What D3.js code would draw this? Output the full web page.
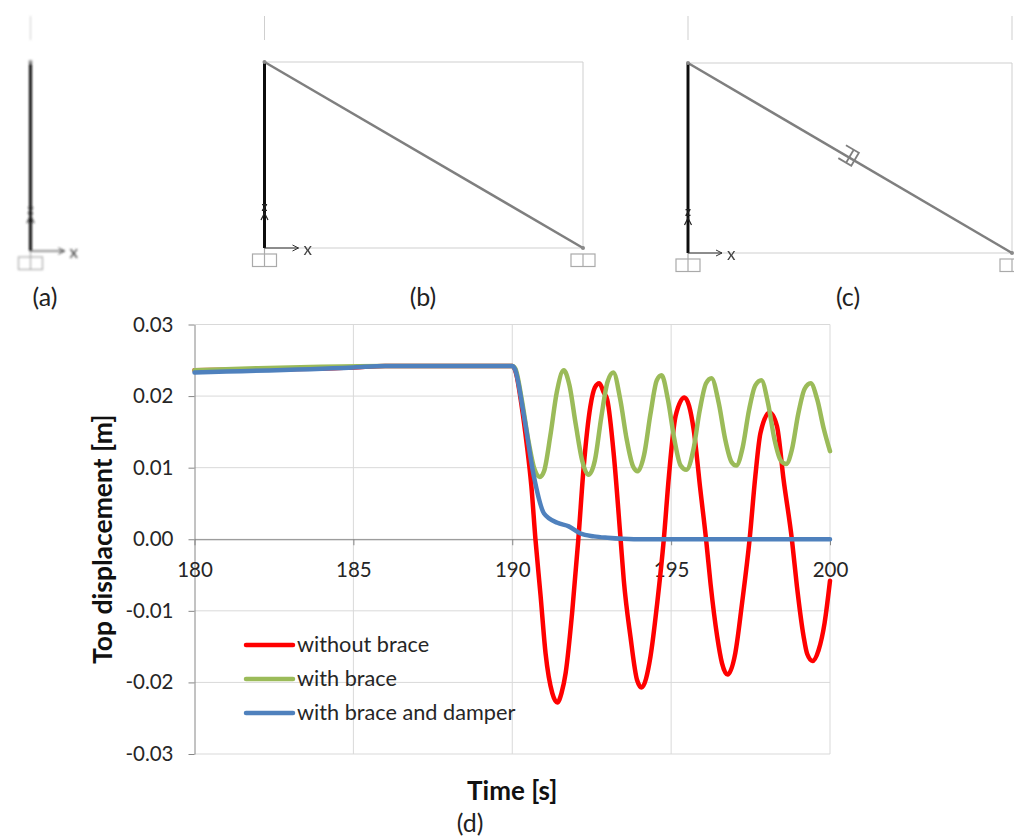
<!DOCTYPE html>
<html>
<head>
<meta charset="utf-8">
<script src="https://cdn.jsdelivr.net/npm/d3@7"></script>
<style>
  body { margin: 0; background: #fff; }
  svg { display: block; font-family: Lato, sans-serif; }
</style>
</head>
<body>
<script>
const seriesNames = ['without brace', 'with brace', 'with brace and damper'];
const seriesColors = ['#ff0000', '#9bbb59', '#4f81bd'];
const xTicks = [180, 185, 190, 195, 200];
const yTicks = [-0.03, -0.02, -0.01, 0, 0.01, 0.02, 0.03];

const redTimes = [180, 185, 186, 190, 190.1, 190.3, 190.45, 190.6, 190.73, 190.89, 191.05, 191.26, 191.42, 191.55, 191.68, 191.89, 192.08, 192.25, 192.46, 192.6, 192.74, 192.88, 192.99, 193.2, 193.41, 193.51, 193.72, 193.93, 194.07, 194.35, 194.56, 194.77, 194.93, 195.14, 195.42, 195.71, 195.92, 196.1, 196.24, 196.45, 196.6, 196.78, 197.02, 197.23, 197.47, 197.65, 197.81, 198.1, 198.33, 198.54, 198.8, 198.96, 199.17, 199.28, 199.45, 199.64, 199.83, 200];
const redValues = [0.0236, 0.024, 0.0242, 0.0242, 0.0235, 0.0185, 0.0135, 0.0075, 0, -0.0078, -0.016, -0.0215, -0.0228, -0.0215, -0.0187, -0.01, 0, 0.0102, 0.0186, 0.0212, 0.0218, 0.0205, 0.0195, 0.0116, 0, -0.0057, -0.0136, -0.0197, -0.0207, -0.0164, -0.009, 0, 0.0088, 0.0172, 0.0198, 0.0153, 0.0069, 0, -0.0062, -0.0136, -0.0173, -0.0189, -0.0159, -0.009, 0, 0.0088, 0.0148, 0.0177, 0.0158, 0.0083, 0, -0.0066, -0.0136, -0.016, -0.017, -0.0155, -0.0117, -0.0058];

const greenTimes = [180, 182, 184, 186, 190, 190.1, 190.3, 190.5, 190.7, 190.87, 191, 191.2, 191.4, 191.62, 191.8, 192, 192.2, 192.4, 192.6, 192.8, 193, 193.18, 193.4, 193.6, 193.8, 193.95, 194.15, 194.35, 194.55, 194.7, 194.9, 195.1, 195.3, 195.48, 195.7, 195.9, 196.1, 196.27, 196.5, 196.7, 196.9, 197.05, 197.25, 197.45, 197.65, 197.84, 198.05, 198.25, 198.45, 198.62, 198.8, 199, 199.2, 199.39, 199.6, 199.8, 200];
const greenValues = [0.0236, 0.0239, 0.0241, 0.0242, 0.0242, 0.0238, 0.0195, 0.014, 0.0098, 0.0087, 0.0095, 0.0145, 0.0205, 0.0236, 0.0215, 0.016, 0.011, 0.009, 0.011, 0.017, 0.022, 0.0233, 0.0195, 0.014, 0.0102, 0.0095, 0.0118, 0.0175, 0.0222, 0.0229, 0.0195, 0.014, 0.0103, 0.0097, 0.0125, 0.018, 0.0218, 0.0225, 0.019, 0.014, 0.0108, 0.0103, 0.0128, 0.018, 0.0215, 0.0222, 0.019, 0.014, 0.011, 0.0105, 0.0125, 0.0175, 0.021, 0.0218, 0.0195, 0.0155, 0.0123];

const blueTimes = [180, 185, 186, 190, 190.08, 190.37, 190.68, 191, 191.42, 191.78, 192.15, 192.57, 193, 193.83, 200];
const blueValues = [0.0233, 0.024, 0.0242, 0.0242, 0.0238, 0.0172, 0.0088, 0.0036, 0.0023, 0.0018, 0.0008, 0.0004, 0.0002, 0, 0];

const allTimes = [redTimes, greenTimes, blueTimes];
const allValues = [redValues, greenValues, blueValues];

const svg = d3.select('body').append('svg')
  .attr('width', 1014)
  .attr('height', 839);

const x = d3.scaleLinear().domain([180, 200]).range([194.5, 830]);
const y = d3.scaleLinear().domain([-0.03, 0.03]).range([754, 324.5]);

// gridlines
const grid = svg.append('g').attr('stroke', '#d9d9d9').attr('stroke-width', 1);
grid.selectAll('.h').data(yTicks).join('line')
  .attr('x1', x(180)).attr('x2', x(200))
  .attr('y1', d => y(d)).attr('y2', d => y(d));
grid.selectAll('.v').data(xTicks.slice(1)).join('line')
  .attr('x1', d => x(d)).attr('x2', d => x(d))
  .attr('y1', y(0.03)).attr('y2', y(-0.03));

const yAxis = svg.append('g')
  .attr('transform', `translate(${x(180)},0)`)
  .call(d3.axisLeft(y).tickValues(yTicks).tickFormat(d3.format('.2f')).tickSize(6).tickSizeOuter(0));

const xAxis = svg.append('g')
  .attr('transform', `translate(0,${y(0)})`)
  .call(d3.axisBottom(x).tickValues(xTicks).tickFormat(d3.format('d')).tickSize(6).tickSizeOuter(0).tickPadding(17));

[yAxis, xAxis].forEach(a => {
  a.selectAll('path, line').attr('stroke', '#868686');
  a.selectAll('text').attr('font-size', 20.5).attr('font-family', 'Lato, sans-serif').attr('fill', '#262626');
});
yAxis.selectAll('text').attr('x', -21).text(d => d3.format('.2f')(d).replace('−', '-'));

const line = d3.line().x(d => x(d[0])).y(d => y(d[1])).curve(d3.curveMonotoneX);

svg.append('g').selectAll('path')
  .data(seriesNames)
  .join('path')
  .attr('fill', 'none')
  .attr('stroke', (d, i) => seriesColors[i])
  .attr('stroke-width', 4.5)
  .attr('stroke-linecap', 'round')
  .attr('stroke-linejoin', 'round')
  .attr('d', (d, i) => line(allTimes[i].map((t, j) => [t, allValues[i][j]])));

// legend
const legend = svg.append('g').selectAll('g')
  .data(seriesNames)
  .join('g')
  .attr('transform', (d, i) => `translate(246,${645 + i * 34})`);
legend.append('line')
  .attr('x2', 47)
  .attr('stroke', (d, i) => seriesColors[i])
  .attr('stroke-width', 4.5)
  .attr('stroke-linecap', 'round');
legend.append('text')
  .attr('x', 51)
  .attr('y', 7)
  .attr('font-size', 21.7)
  .attr('fill', '#262626')
  .text(d => d);

svg.append('text')
  .attr('x', x(190)).attr('y', 800)
  .attr('text-anchor', 'middle')
  .attr('font-size', 26)
  .attr('font-weight', 700)
  .attr('fill', '#111')
  .text('Time [s]');

svg.append('text')
  .attr('transform', `translate(112,${y(0)}) rotate(-90)`)
  .attr('text-anchor', 'middle')
  .attr('font-size', 26.5)
  .attr('font-weight', 700)
  .attr('fill', '#111')
  .text('Top displacement [m]');

// panel captions
const captionNames = ['(a)', '(b)', '(c)', '(d)'];
const captionX = [45, 423, 848, 470];
const captionY = [306, 306, 306, 832];
svg.append('g').selectAll('text')
  .data(captionNames)
  .join('text')
  .attr('x', (d, i) => captionX[i])
  .attr('y', (d, i) => captionY[i])
  .attr('text-anchor', 'middle')
  .attr('font-size', 25)
  .attr('fill', '#222')
  .text(d => d);

// frame sketches
const defs = svg.append('defs');
defs.append('filter').attr('id', 'blur').append('feGaussianBlur').attr('stdDeviation', 0.8);
defs.append('filter').attr('id', 'soft').append('feGaussianBlur').attr('stdDeviation', 0.35);

function frame(left, right, top, base, opts) {
  const g = svg.append('g').attr('filter', opts.blur ? 'url(#blur)' : 'url(#soft)');
  const fx = d3.scaleLinear().domain([0, 1]).range([left, right]);
  const fy = d3.scaleLinear().domain([0, 1]).range([base, top]);
  const light = '#cfcfcf';

  // stub above the column
  g.append('line').attr('x1', fx(0)).attr('x2', fx(0)).attr('y1', 16).attr('y2', 40).attr('stroke', light);
  if (opts.rightStub) {
    g.append('line').attr('x1', fx(1)).attr('x2', fx(1)).attr('y1', 16).attr('y2', 40).attr('stroke', light);
  }

  if (opts.brace) {
    g.append('path')
      .attr('d', `M${fx(0)},${fy(1)}H${fx(1)}V${fy(0)}H${fx(0)}`)
      .attr('fill', 'none').attr('stroke', light);
    g.append('line')
      .attr('x1', fx(0)).attr('y1', fy(1)).attr('x2', fx(1)).attr('y2', fy(0))
      .attr('stroke', '#7f7f7f').attr('stroke-width', 2.5);
    g.append('circle').attr('cx', fx(1)).attr('cy', fy(0)).attr('r', 2).attr('fill', '#8a8a8a');
    g.append('rect')
      .attr('x', fx(1) - 12).attr('y', fy(0) + 6).attr('width', 24).attr('height', 12.5)
      .attr('fill', 'none').attr('stroke', '#aaa').attr('stroke-width', 1.2);
    g.append('line').attr('x1', fx(1)).attr('x2', fx(1)).attr('y1', fy(0) + 6).attr('y2', fy(0) + 18.5)
      .attr('stroke', '#aaa').attr('stroke-width', 1.2);
  }

  if (opts.damper) {
    const angle = Math.atan2(fy(0) - fy(1), fx(1) - fx(0)) * 180 / Math.PI;
    const d = g.append('g')
      .attr('transform', `translate(${fx(0.5)},${fy(0.5)}) rotate(${angle})`)
      .attr('fill', 'none').attr('stroke', '#7f7f7f').attr('stroke-width', 1.8);
    d.append('path').attr('d', 'M-10,-9H5V6H-10M-1,-9V6');
  }

  g.append('line')
    .attr('x1', fx(0)).attr('x2', fx(0)).attr('y1', fy(1)).attr('y2', fy(0))
    .attr('stroke', '#111').attr('stroke-width', 3);
  g.append('circle').attr('cx', fx(0)).attr('cy', fy(1)).attr('r', 2).attr('fill', '#8a8a8a');

  // left support
  g.append('rect')
    .attr('x', fx(0) - 12).attr('y', fy(0) + 6).attr('width', 24).attr('height', 12.5)
    .attr('fill', 'none').attr('stroke', '#aaa').attr('stroke-width', 1.2);
  g.append('line').attr('x1', fx(0)).attr('x2', fx(0)).attr('y1', fy(0)).attr('y2', fy(0) + 18.5)
    .attr('stroke', '#aaa').attr('stroke-width', 1.2);

  // axis triad
  g.append('path')
    .attr('d', `M${fx(0)},${fy(0)}h34M${fx(0) + 28},${fy(0) - 3}l6,3l-6,3`)
    .attr('fill', 'none').attr('stroke', '#333');
  g.append('text').attr('x', fx(0) + 39).attr('y', fy(0) + 7)
    .attr('font-size', 17).attr('fill', '#444').text('x');
  g.append('text')
    .attr('x', fx(0)).attr('y', fy(0) - 37)
    .attr('text-anchor', 'middle')
    .attr('font-size', 13).attr('font-weight', 700).attr('fill', '#222').text('z');
  g.append('path')
    .attr('d', `M${fx(0) - 3.5},${fy(0) - 28}l3.5,-7l3.5,7`)
    .attr('fill', 'none').attr('stroke', '#222').attr('stroke-width', 1.2);
}

frame(30.5, 30.5, 62, 251, { blur: true });
frame(264.5, 583, 62, 248, { brace: true });
frame(688, 1012, 63, 253, { brace: true, damper: true, rightStub: true });
</script>
</body>
</html>
